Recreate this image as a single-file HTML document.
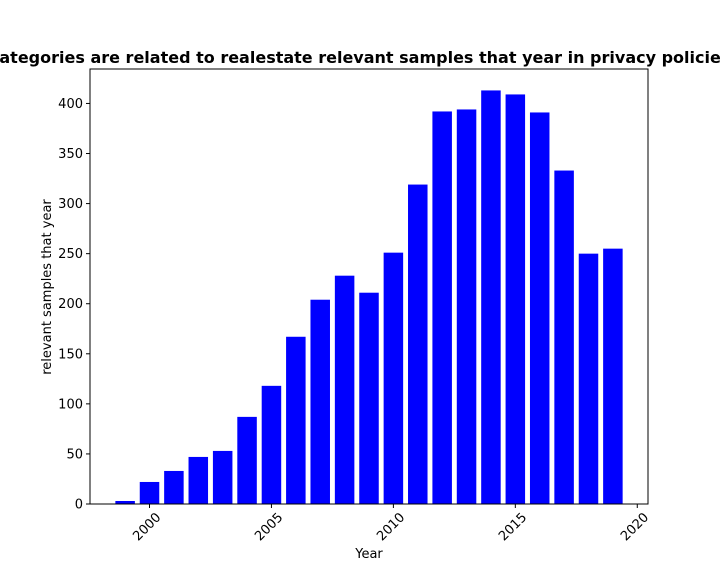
<!DOCTYPE html>
<html><head><meta charset="utf-8"><style>
body{margin:0;background:#fff;}
svg text{font-family:"DejaVu Sans","Liberation Sans",sans-serif;fill:#000;}
</style></head><body>
<svg id="chart" width="720" height="576" xmlns="http://www.w3.org/2000/svg">
<rect width="720" height="576" fill="#fff"/>
<text x="359" y="63" text-anchor="middle" font-size="16" font-weight="bold">Categories are related to realestate relevant samples that year in privacy policies</text>
<g id="bars"></g>
<g id="axes"></g>
<text x="369" y="558" text-anchor="middle" font-size="13">Year</text>
<text transform="translate(51,287) rotate(-90)" text-anchor="middle" font-size="13">relevant samples that year</text>
</svg>
<script>
const years=[1999,2000,2001,2002,2003,2004,2005,2006,2007,2008,2009,2010,2011,2012,2013,2014,2015,2016,2017,2018,2019];
const values=[3,22,33,47,53,87,118,167,204,228,211,251,319,392,394,413,409,391,333,250,255];
const xTicks=[2000,2005,2010,2015,2020];
const yTicks=[0,50,100,150,200,250,300,350,400];
const L=90,R=648,T=69,B=504,xmin=1997.56,xmax=2020.44,ymax=434.4;
const sx=v=>L+(v-xmin)/(xmax-xmin)*(R-L);
const sy=v=>B-v/ymax*(B-T);
const ns="http://www.w3.org/2000/svg";
const bars=document.getElementById('bars'),axes=document.getElementById('axes');
function mk(tag,attrs,parent){const e=document.createElementNS(ns,tag);for(const k in attrs)e.setAttribute(k,attrs[k]);parent.appendChild(e);return e;}
const bw=sx(0.8)-sx(0);
years.forEach((y,i)=>{
 const r=mk('rect',{x:sx(y)-bw/2,y:sy(values[i]),width:bw,height:B-sy(values[i]),fill:'#0000ff'},bars);
 
 
});
const frame=mk('rect',{x:L,y:T,width:R-L,height:B-T,fill:'none',stroke:'#000','stroke-width':1},axes);


xTicks.forEach(t=>{
 const x=sx(t);
 mk('line',{x1:x,x2:x,y1:B,y2:B+4,stroke:'#000'},axes);
 const tx=mk('text',{'font-size':13,'text-anchor':'end',transform:`translate(${x+12},${B+14}) rotate(-45)`},axes);
 tx.textContent=t;
 
 
});
yTicks.forEach(t=>{
 const y=sy(t);
 mk('line',{x1:L-4,x2:L,y1:y,y2:y,stroke:'#000'},axes);
 const tx=mk('text',{x:L-7,y:y+4.5,'font-size':13,'text-anchor':'end'},axes);
 tx.textContent=t;
 
 
});
</script>
</body></html>
